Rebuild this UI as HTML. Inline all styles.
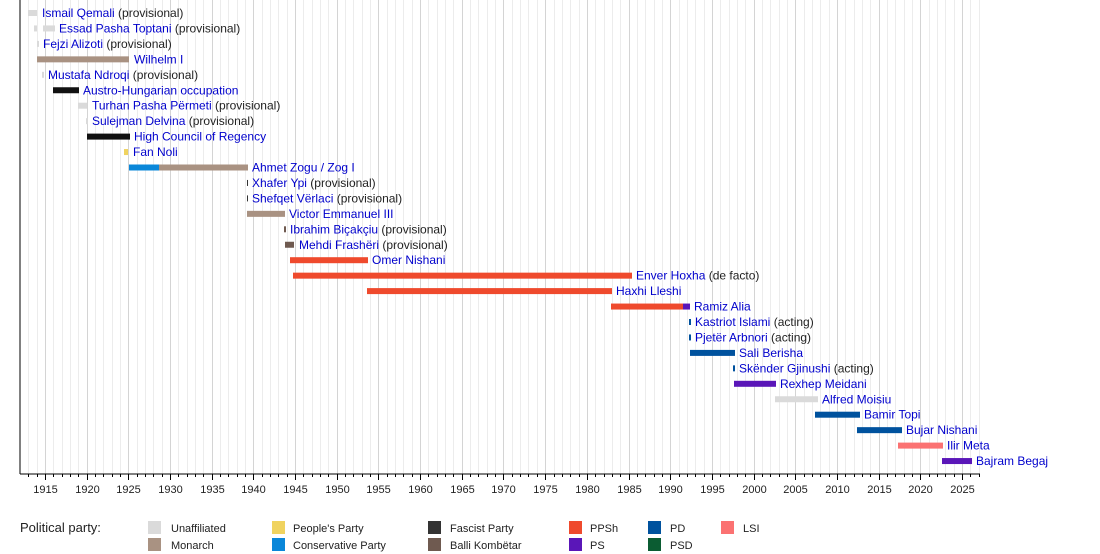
<!DOCTYPE html>
<html><head><meta charset="utf-8"><style>
body{margin:0;background:#fff}
svg{display:block;font-family:"Liberation Sans",sans-serif}
.n{fill:#0000cc;font-size:12px}
.p{fill:#222;font-size:12px}
.t{font-size:11px;fill:#222;text-anchor:middle}
.l{font-size:11px;fill:#222}
</style></head><body>
<svg width="1100" height="554" xmlns="http://www.w3.org/2000/svg">
<g id="grid"></g>
<g id="rows"></g>
<line x1="20" y1="0" x2="20" y2="474" stroke="#000"/>
<line x1="20" y1="474" x2="980" y2="474" stroke="#000"/>
<g id="ticks"></g>
<text x="20" y="532" style="font-size:13px;fill:#222">Political party:</text>
<g class="l">
<rect x="148" y="521" width="13" height="13" fill="#dadada"/><text x="171" y="532">Unaffiliated</text>
<rect x="148" y="538" width="13" height="13" fill="#a99282"/><text x="171" y="549">Monarch</text>
<rect x="272" y="521" width="13" height="13" fill="#f0d35f"/><text x="293" y="532">People's Party</text>
<rect x="272" y="538" width="13" height="13" fill="#0a87d9"/><text x="293" y="549">Conservative Party</text>
<rect x="428" y="521" width="13" height="13" fill="#333333"/><text x="450" y="532">Fascist Party</text>
<rect x="428" y="538" width="13" height="13" fill="#6f5a50"/><text x="450" y="549">Balli Kombëtar</text>
<rect x="569" y="521" width="13" height="13" fill="#ef4a2d"/><text x="590" y="532">PPSh</text>
<rect x="569" y="538" width="13" height="13" fill="#5a16b8"/><text x="590" y="549">PS</text>
<rect x="648" y="521" width="13" height="13" fill="#00529e"/><text x="670" y="532">PD</text>
<rect x="648" y="538" width="13" height="13" fill="#0b5c32"/><text x="670" y="549">PSD</text>
<rect x="721" y="521" width="13" height="13" fill="#fb7272"/><text x="743" y="532">LSI</text>
</g>
</svg>
<script>
var NS="http://www.w3.org/2000/svg";
function el(p,t,a,txt){var e=document.createElementNS(NS,t);for(var k in a)e.setAttribute(k,a[k]);if(txt)e.textContent=txt;p.appendChild(e);return e;}
var X=function(y){return 20+(y-1912)*8.336;};
var g=document.getElementById('grid'),tk=document.getElementById('ticks');
for(var y=1913;y<=2027;y++){var x=Math.round(X(y))+0.5;var maj=y%5==0;
el(g,'line',{x1:x,y1:0,x2:x,y2:474,stroke:maj?'#d4d4d4':'#ececec'});
el(tk,'line',{x1:x,y1:474,x2:x,y2:maj?480:477,stroke:'#000'});
if(maj)el(tk,'text',{x:x,y:493,'class':'t'},String(y));}
var U='#dadada',M='#a99282',B='#111',Y='#f0d35f',C='#0a87d9',K='#6f5a50',R='#ef4a2d',P='#5a16b8',D='#00529e',L='#fb7272';
var rows=[
[[[28,37,U]],42,'Ismail Qemali',' (provisional)'],
[[[34,37,U],[43,55,U]],59,'Essad Pasha Toptani',' (provisional)'],
[[[37,39,U]],43,'Fejzi Alizoti',' (provisional)'],
[[[37,129,M]],134,'Wilhelm I',''],
[[[42,44,U]],48,'Mustafa Ndroqi',' (provisional)'],
[[[53,79,B]],83,'Austro-Hungarian occupation',''],
[[[78,87,U]],92,'Turhan Pasha Përmeti',' (provisional)'],
[[[86,88,U]],92,'Sulejman Delvina',' (provisional)'],
[[[87,130,B]],134,'High Council of Regency',''],
[[[124,128,Y]],133,'Fan Noli',''],
[[[129,159,C],[159,248,M]],252,'Ahmet Zogu / Zog I',''],
[[[247,248,'#333']],252,'Xhafer Ypi',' (provisional)'],
[[[247,248,'#333']],252,'Shefqet Vërlaci',' (provisional)'],
[[[247,285,M]],289,'Victor Emmanuel III',''],
[[[284,286,K]],290,'Ibrahim Biçakçiu',' (provisional)'],
[[[285,294,K]],299,'Mehdi Frashëri',' (provisional)'],
[[[290,368,R]],372,'Omer Nishani',''],
[[[293,632,R]],636,'Enver Hoxha',' (de facto)'],
[[[367,612,R]],616,'Haxhi Lleshi',''],
[[[611,683,R],[683,690,P]],694,'Ramiz Alia',''],
[[[689,691,D]],695,'Kastriot Islami',' (acting)'],
[[[689,691,D]],695,'Pjetër Arbnori',' (acting)'],
[[[690,735,D]],739,'Sali Berisha',''],
[[[733,735,D]],739,'Skënder Gjinushi',' (acting)'],
[[[734,776,P]],780,'Rexhep Meidani',''],
[[[775,818,U]],822,'Alfred Moisiu',''],
[[[815,860,D]],864,'Bamir Topi',''],
[[[857,902,D]],906,'Bujar Nishani',''],
[[[898,943,L]],947,'Ilir Meta',''],
[[[942,972,P]],976,'Bajram Begaj','']];
var rg=document.getElementById('rows');
rows.forEach(function(r,i){var c=13+i*15.45;
r[0].forEach(function(b){el(rg,'rect',{x:b[0],y:c-3,width:b[1]-b[0],height:6,fill:b[2]});});
var t=el(rg,'text',{x:r[1],y:c+4});
el(t,'tspan',{'class':'n'},r[2]);if(r[3])el(t,'tspan',{'class':'p'},r[3]);});
</script>
</body></html>
